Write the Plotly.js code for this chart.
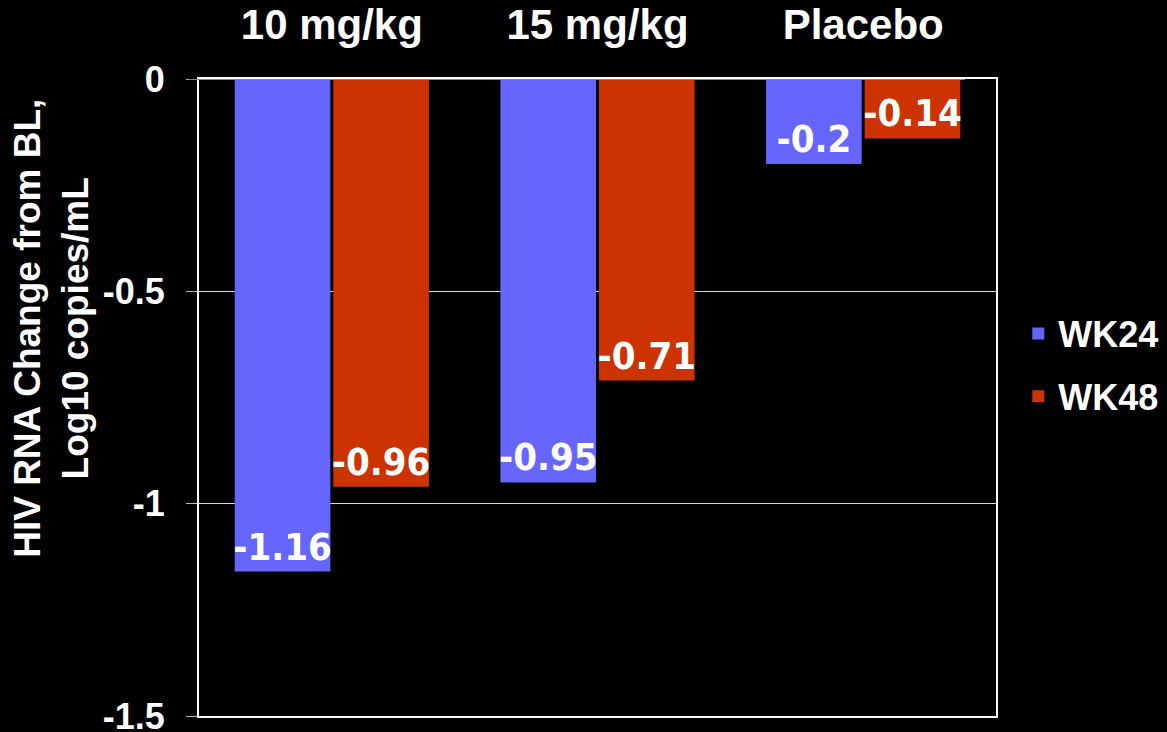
<!DOCTYPE html>
<html>
<head>
<meta charset="utf-8">
<script src="https://cdn.plot.ly/plotly-3.0.1.min.js"></script>
<style>html,body{margin:0;padding:0;background:#000;}#chart{width:1167px;height:732px;}</style>
</head>
<body>
<div id="chart"></div>
<script>
var categories = ["10 mg/kg", "15 mg/kg", "Placebo"];
var seriesNames = ["WK24", "WK48"];
var wk24 = [-1.16, -0.95, -0.2];
var wk48 = [-0.96, -0.71, -0.14];
var yTickVals = [0, -0.5, -1, -1.5];
var yTickText = ["0", "-0.5", "-1", "-1.5"];
var yTitle = "HIV RNA Change from BL,<br>Log10 copies/mL";

var labelFont = {family: "DejaVu Sans Condensed, DejaVu Sans, sans-serif", size: 38, color: "#ffffff", weight: "bold"};

function barTrace(name, vals, color, group) {
  return {
    type: "bar",
    name: name,
    x: categories,
    y: vals,
    text: vals.map(String),
    textposition: "inside",
    insidetextanchor: "end",
    constraintext: "none",
    textangle: 0,
    textfont: labelFont,
    marker: {color: color, line: {width: 0}},
    legendgroup: group,
    hoverinfo: "skip"
  };
}

var data = [
  barTrace(seriesNames[0], wk24, "#6666FF", "g1"),
  barTrace(seriesNames[1], wk48, "#CC3300", "g2")
];

var layout = {
  width: 1167,
  height: 732,
  paper_bgcolor: "#000000",
  plot_bgcolor: "#000000",
  margin: {l: 199, r: 171, t: 79, b: 16, autoexpand: false},
  barmode: "group",
  bargap: 0.258,
  bargroupgap: 0.03,
  font: {family: "Liberation Sans, Arial, sans-serif", color: "#ffffff"},
  xaxis: {
    side: "top",
    type: "category",
    tickfont: {family: "Liberation Sans, Arial, sans-serif", size: 42, color: "#ffffff", weight: "bold"},
    ticks: "",
    showgrid: false,
    showline: true,
    linecolor: "#ffffff",
    linewidth: 2,
    mirror: true,
    ticklabelstandoff: 21,
    fixedrange: true
  },
  yaxis: {
    range: [-1.5, 0],
    tickvals: yTickVals,
    ticktext: yTickText,
    tickfont: {family: "Liberation Sans, Arial, sans-serif", size: 36, color: "#ffffff", weight: "bold"},
    ticks: "outside",
    ticklen: 11,
    tickwidth: 1,
    tickcolor: "#bfbfbf",
    ticklabelstandoff: 14,
    ticklabeloverflow: "allow",
    showgrid: true,
    gridcolor: "#d9d9d9",
    gridwidth: 1,
    zeroline: false,
    showline: true,
    linecolor: "#ffffff",
    linewidth: 2,
    mirror: true,
    fixedrange: true
  },
  annotations: [{
    text: yTitle,
    xref: "paper", yref: "paper",
    x: -0.186, y: 0.609,
    xanchor: "center", yanchor: "middle",
    textangle: -90,
    showarrow: false,
    align: "center",
    font: {family: "Liberation Sans, Arial, sans-serif", size: 37, color: "#ffffff", weight: "bold"}
  }],
  shapes: [{
    type: "line", xref: "paper", yref: "y",
    x0: -0.014, x1: 0.961, y0: 0, y1: 0,
    line: {color: "#8c8c8c", width: 2},
    layer: "above"
  }],
  showlegend: true,
  legend: {
    x: 1.028, xanchor: "left",
    y: 0.551, yanchor: "middle",
    font: {family: "Liberation Sans, Arial, sans-serif", size: 36, color: "#ffffff", weight: "bold"},
    bgcolor: "rgba(0,0,0,0)",
    traceorder: "grouped",
    tracegroupgap: 13,
    itemclick: false,
    itemdoubleclick: false
  },
  hovermode: false
};

Plotly.newPlot("chart", data, layout, {displayModeBar: false, staticPlot: true});
</script>
</body>
</html>
